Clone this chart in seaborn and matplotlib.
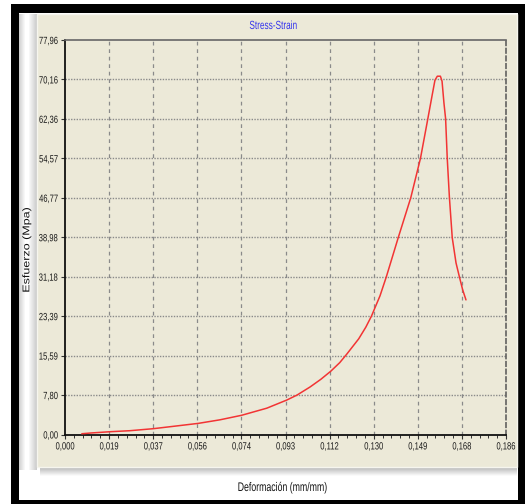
import numpy as np
import pandas as pd
import matplotlib
matplotlib.use("Agg")
import matplotlib.pyplot as plt
from matplotlib.patches import Rectangle
from matplotlib.transforms import Affine2D
from matplotlib import patheffects
from matplotlib.ticker import MultipleLocator
import seaborn as sns

# ---- data ----
strain = [0.0071, 0.0110, 0.0190, 0.0274, 0.0373, 0.0464, 0.0563, 0.0654, 0.0746,
          0.0852, 0.0936, 0.0980, 0.1035, 0.1080, 0.1122, 0.1160, 0.1190, 0.1240,
          0.1270, 0.1294, 0.1330, 0.1357, 0.1407, 0.1460, 0.1501, 0.1532, 0.1550,
          0.1562, 0.1572, 0.1585, 0.1592, 0.1600, 0.1607, 0.1614, 0.1623, 0.1635,
          0.1651, 0.1665, 0.1679, 0.1693]
stress = [0.15, 0.30, 0.55, 0.75, 1.15, 1.65, 2.2, 2.9, 3.8,
          5.2, 6.8, 7.8, 9.4, 10.9, 12.5, 14.2, 15.9, 18.9,
          21.2, 23.4, 27.4, 31.2, 38.9, 46.8, 54.6, 62.4, 67.0,
          70.0, 70.8, 70.8, 69.8, 65.5, 62.4, 54.5, 46.9, 38.9,
          33.9, 31.2, 28.6, 26.6]
x_max = 0.1862
y_max = 77.955
x_tick_labels = ["0,000", "0,019", "0,037", "0,056", "0,074", "0,093",
                 "0,112", "0,130", "0,149", "0,168", "0,186"]
y_tick_labels = ["0,00", "7,80", "15,59", "23,39", "31,18", "38,98",
                 "46,77", "54,57", "62,36", "70,16", "77,96"]
title = "Stress-Strain"
x_label = "Deformación (mm/mm)"
y_label = "Esfuerzo (Mpa)"

df = pd.DataFrame({"strain": strain, "stress": stress})


class Squeeze(patheffects.AbstractPathEffect):
    """Draw text glyphs scaled (narrow screenshot look), pivoting on the text box."""

    def __init__(self, sx=1.0, sy=1.0, px=0.5, py=0.5):
        super().__init__()
        self.sx, self.sy, self.px, self.py = sx, sy, px, py

    def draw_path(self, renderer, gc, tpath, affine, rgbFace=None):
        ext = tpath.get_extents()
        cx = ext.x0 + self.px * ext.width
        cy = ext.y0 + self.py * ext.height
        aff = (Affine2D().translate(-cx, -cy).scale(self.sx, self.sy)
               .translate(cx, cy) + affine)
        renderer.draw_path(gc, tpath, aff, rgbFace)


sns.set_theme(style="white")
plt.rcParams["font.family"] = ["Liberation Sans", "DejaVu Sans"]

W, H = 525, 504
fig = plt.figure(figsize=(W / 100, H / 100), dpi=100)
fig.patch.set_facecolor("white")


def frect(x0, y0, x1, y1, **kw):
    """rectangle in pixel coords measured from top-left"""
    r = Rectangle((x0 / W, 1 - y1 / H), (x1 - x0) / W, (y1 - y0) / H,
                  transform=fig.transFigure, zorder=kw.pop("zorder", -10), **kw)
    fig.patches.append(r)
    return r


beige = "#ECE9D8"
# black frame
frect(11, 4, 525, 504, facecolor="black", edgecolor="none", zorder=-20)
frect(19, 13, 518, 500, facecolor="white", edgecolor="none", zorder=-19)
# shadow strip left of panel
for i, g in enumerate(np.linspace(0.97, 0.80, 8)):
    frect(29 + i, 14, 30 + i, 470, facecolor=str(g), edgecolor="none", zorder=-18)
for i, g in enumerate(np.linspace(0.82, 0.97, 6)):
    frect(19 + i, 14, 20 + i, 470, facecolor=str(g), edgecolor="none", zorder=-18)
# shadow under panel
for i, g in enumerate(np.linspace(0.72, 0.98, 9)):
    frect(40, 467 + i, 517, 468 + i, facecolor=str(g), edgecolor="none", zorder=-18)
# beige panel
frect(37, 14, 517, 467, facecolor=beige, edgecolor="#f6f5ee", linewidth=1, zorder=-17)

ax = fig.add_axes([65 / W, 1 - 434.5 / H, (506 - 65) / W, (434.5 - 40) / H])
ax.set_facecolor(beige)

sns.lineplot(data=df, x="strain", y="stress", ax=ax, color="#F23434",
             linewidth=1.1, estimator=None, sort=False, zorder=5)

ax.set_xlim(0, x_max)
ax.set_ylim(0, y_max)
xt = np.linspace(0, x_max, 11)
yt = np.linspace(0, y_max, 11)
ax.set_xticks(xt)
ax.set_xticklabels(x_tick_labels, fontsize=7.5, color="#1a1a1a")
ax.set_yticks(yt)
ax.set_yticklabels(y_tick_labels, fontsize=7.5, color="#1a1a1a")
ax.xaxis.set_minor_locator(MultipleLocator(x_max / 50))
ax.tick_params(axis="both", which="major", direction="out", length=3, width=0.8,
               color="#333333", pad=2, bottom=True, left=True)
ax.tick_params(axis="x", which="minor", direction="out", length=1.8, width=0.7,
               color="#333333", bottom=True)
for t in ax.get_xticklabels():
    t.set_path_effects([Squeeze(sx=0.73, px=0.5)])
for t in ax.get_yticklabels():
    t.set_path_effects([Squeeze(sx=0.73, px=1.0)])

# grid
for v in xt[1:-1]:
    ax.axvline(v, color="#8a8a8a", linewidth=0.9, linestyle=(0, (3, 3)), zorder=1)
for v in yt[1:-1]:
    ax.axhline(v, color="#8a8a8a", linewidth=1.0, linestyle=(0, (1, 1)), zorder=1)

for s in ["left", "bottom"]:
    ax.spines[s].set_color("#111111")
    ax.spines[s].set_linewidth(1.3)
ax.spines["top"].set_color("#666666")
ax.spines["top"].set_linestyle((0, (1, 1)))
ax.spines["top"].set_linewidth(1.2)
ax.spines["right"].set_color("#555555")
ax.spines["right"].set_linestyle((0, (3, 2)))
ax.spines["right"].set_linewidth(1.1)

ax.set_xlabel("")
ax.set_ylabel("")
t1 = fig.text(273 / W, 1 - 26 / H, title, color="#3333EE", fontsize=8.5,
              ha="center", va="center")
t1.set_path_effects([Squeeze(sx=0.7, px=0.5)])
t2 = fig.text(282 / W, 1 - 488 / H, x_label, color="#111111", fontsize=9,
              ha="center", va="center")
t2.set_path_effects([Squeeze(sx=0.7, px=0.5)])
t3 = fig.text(27 / W, 1 - 250 / H, y_label, color="#111111", fontsize=9,
              rotation=90, ha="center", va="center")
t3.set_path_effects([Squeeze(sy=0.78, py=0.5)])

fig.savefig("out.png", dpi=100)
